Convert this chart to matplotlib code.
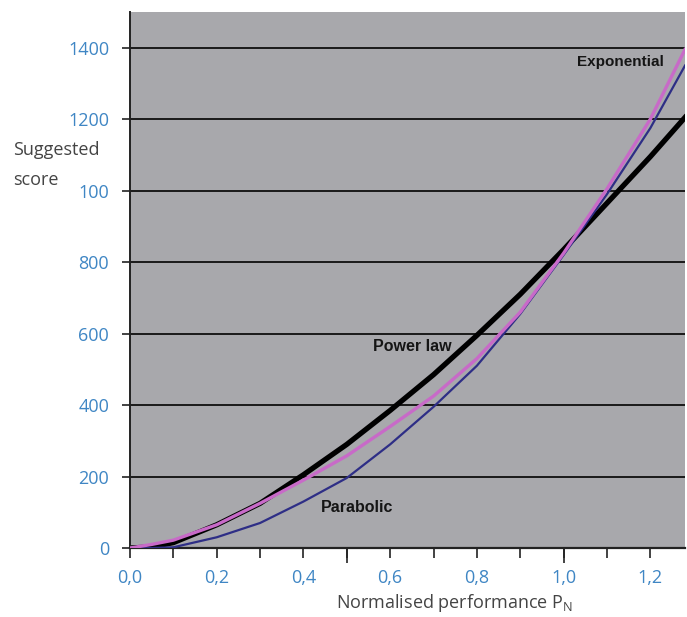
import matplotlib
matplotlib.use("Agg")
from matplotlib import pyplot as plt

# normalised performance values where the curves were read
perf = [0.0, 0.05, 0.1, 0.2, 0.3, 0.4, 0.5, 0.6, 0.7, 0.8, 0.9, 1.0, 1.1, 1.2, 1.28]

power_law = [0, 3, 15, 65, 125, 205, 290, 385, 485, 595, 710, 835, 965, 1095, 1205]
exponential = [0, 10, 22, 65, 125, 190, 258, 340, 425, 530, 660, 825, 1005, 1200, 1395]
parabolic = [0, 0, 2, 30, 70, 130, 196, 290, 395, 510, 655, 820, 990, 1175, 1350]

y_ticks = [0, 200, 400, 600, 800, 1000, 1200, 1400]
y_labels = ["0", "200", "400", "600", "800", "100", "1200", "1400"]
x_ticks = [0.0, 0.1, 0.2, 0.3, 0.4, 0.5, 0.6, 0.7, 0.8, 0.9, 1.0, 1.1, 1.2]
x_labels = ["0,0", "", "0,2", "", "0,4", "", "0,6", "", "0,8", "", "1,0", "", "1,2"]
long_ticks = [0.5, 1.0]

tick_col = "#3f86c4"
bg = "#a8a8ac"

fig = plt.figure(figsize=(6.87, 6.17), dpi=100)
ax = fig.add_axes([130/687, 69/617, 555/687, 536/617])
ax.set_facecolor(bg)

for y in y_ticks[1:]:
    ax.axhline(y, color="#1a1a1a", lw=1.4, zorder=1)

ax.plot(perf, parabolic, color="#2e2e86", lw=1.6, zorder=3)
ax.plot(perf, exponential, color="#c86ac8", lw=2.4, zorder=4)
ax.plot(perf, power_law, color="black", lw=3.8, zorder=2)

ax.set_xlim(0, 1.28)
ax.set_ylim(0, 1500)

ax.set_yticks(y_ticks)
ax.set_yticklabels(y_labels)
ax.set_xticks(x_ticks)
ax.set_xticklabels(x_labels)
ax.xaxis.remove_overlapping_locs = False
ax.set_xticks(long_ticks, minor=True)
ax.tick_params(axis="y", direction="out", length=6, width=1.2, color="#222222",
               pad=9, labelsize=13, labelcolor=tick_col)
ax.tick_params(axis="x", direction="out", length=7, width=1.2, color="#222222",
               pad=8, labelsize=13, labelcolor=tick_col)
ax.tick_params(axis="x", which="minor", direction="out", length=11, width=1.2,
               color="#222222")
for lab in ax.get_xticklabels() + ax.get_yticklabels():
    lab.set_family("Open Sans")

for side in ["top", "right"]:
    ax.spines[side].set_visible(False)
ax.spines["left"].set_color("#222222")
ax.spines["left"].set_linewidth(1.4)
ax.spines["bottom"].set_color("#222222")
ax.spines["bottom"].set_linewidth(1.6)

ax.text(1.03, 1360, "Exponential", fontsize=11, fontweight="bold",
        family="Liberation Sans", color="#151515", va="center", ha="left")
ax.text(0.56, 563, "Power law", fontsize=11.5, fontweight="bold",
        family="Liberation Sans", color="#151515", va="center", ha="left")
ax.text(0.44, 112, "Parabolic", fontsize=11.5, fontweight="bold",
        family="Liberation Sans", color="#151515", va="center", ha="left")

# y label as two separate lines, left aligned like the original
fig.text(13/687, 1 - 150/617, "Suggested", fontsize=13, family="Open Sans",
         color="#444444", ha="left", va="center")
fig.text(13/687, 1 - 180/617, "score", fontsize=13, family="Open Sans",
         color="#444444", ha="left", va="center")
fig.text(455/687, 1 - 603/617, "Normalised performance P$_\\mathregular{N}$", fontsize=13,
         family="Open Sans", color="#444444", ha="center", va="center")

fig.savefig("out.png", dpi=100)
